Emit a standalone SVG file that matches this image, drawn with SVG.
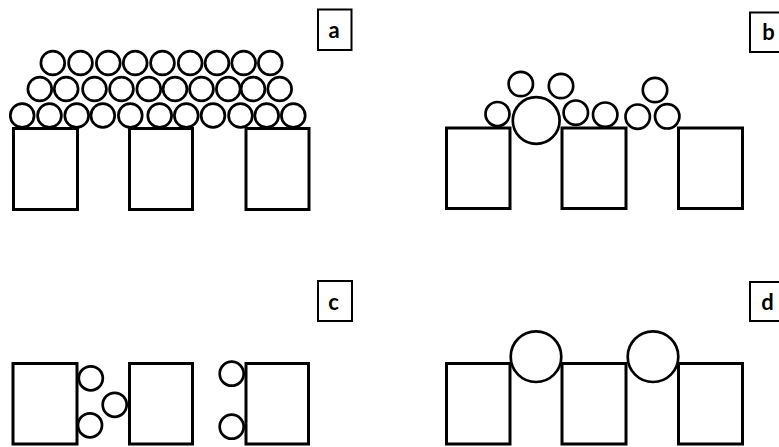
<svg xmlns="http://www.w3.org/2000/svg" width="779" height="447" viewBox="0 0 779 447">
<style>
.blk{fill:#fff;stroke:#000;stroke-width:3}
.c{fill:#fff;stroke:#000;stroke-width:2.7}
.ca{fill:#fff;stroke:#000;stroke-width:2.7}
.lb{fill:#fff;stroke:#000;stroke-width:2}
.lt{font-family:Lato,"Open Sans","Liberation Sans",sans-serif;font-weight:bold;font-size:22px;text-anchor:middle;fill:#000}
</style>
<rect width="779" height="447" fill="#fff"/>
<g id="panel-a">
<g id="a-blocks">
<rect class="blk" x="13.5" y="128.5" width="64" height="81"/>
<rect class="blk" x="129.5" y="128.5" width="63" height="81"/>
<rect class="blk" x="246" y="128.5" width="63" height="81"/>
</g>
<g id="a-particles">
<circle class="ca" cx="22.2" cy="115.5" r="11.9"/>
<circle class="ca" cx="49.5" cy="115.5" r="11.9"/>
<circle class="ca" cx="76.7" cy="115.5" r="11.9"/>
<circle class="ca" cx="102.8" cy="115.5" r="11.9"/>
<circle class="ca" cx="130.3" cy="115.5" r="11.9"/>
<circle class="ca" cx="159.7" cy="115.5" r="11.9"/>
<circle class="ca" cx="186.3" cy="115.5" r="11.9"/>
<circle class="ca" cx="213" cy="115.5" r="11.9"/>
<circle class="ca" cx="240.5" cy="115.5" r="11.9"/>
<circle class="ca" cx="266.7" cy="115.5" r="11.9"/>
<circle class="ca" cx="293.3" cy="115.5" r="11.9"/>
<circle class="ca" cx="39.8" cy="89" r="11.9"/>
<circle class="ca" cx="66.2" cy="89" r="11.9"/>
<circle class="ca" cx="94.5" cy="89" r="11.9"/>
<circle class="ca" cx="121.5" cy="89" r="11.9"/>
<circle class="ca" cx="148.8" cy="89" r="11.9"/>
<circle class="ca" cx="175" cy="89" r="11.9"/>
<circle class="ca" cx="201.5" cy="89" r="11.9"/>
<circle class="ca" cx="228.3" cy="89" r="11.9"/>
<circle class="ca" cx="253" cy="89" r="11.9"/>
<circle class="ca" cx="279.7" cy="89" r="11.9"/>
<circle class="ca" cx="52.8" cy="63" r="11.9"/>
<circle class="ca" cx="80.5" cy="63" r="11.9"/>
<circle class="ca" cx="108.3" cy="63" r="11.9"/>
<circle class="ca" cx="135.2" cy="63" r="11.9"/>
<circle class="ca" cx="162.5" cy="63" r="11.9"/>
<circle class="ca" cx="190.2" cy="63" r="11.9"/>
<circle class="ca" cx="217" cy="63" r="11.9"/>
<circle class="ca" cx="243.7" cy="63" r="11.9"/>
<circle class="ca" cx="270.3" cy="63" r="11.9"/>
</g>
<g id="label-a"><rect class="lb" x="318" y="9.5" width="33.5" height="40.5"/><text class="lt" x="334" y="37.5">a</text></g>
</g>
<g id="panel-b">
<g id="b-blocks">
<rect class="blk" x="446.5" y="128" width="63.5" height="80.5"/>
<rect class="blk" x="562" y="128" width="64" height="80.5"/>
<rect class="blk" x="678.5" y="128" width="64" height="80.5"/>
</g>
<g id="b-particles">
<circle class="c" cx="497.5" cy="114" r="12"/>
<circle class="c" cx="536.2" cy="120.5" r="23.4"/>
<circle class="c" cx="520.8" cy="84" r="12.2"/>
<circle class="c" cx="561" cy="86" r="12.2"/>
<circle class="c" cx="575.8" cy="112.7" r="12.2"/>
<circle class="c" cx="605.2" cy="114.7" r="12.2"/>
<circle class="c" cx="637.7" cy="116.7" r="12.2"/>
<circle class="c" cx="667.2" cy="116.3" r="12.2"/>
<circle class="c" cx="655" cy="90" r="12.2"/>
</g>
<g id="label-b"><rect class="lb" x="750" y="12.5" width="40" height="39.5"/><text class="lt" x="768.5" y="40">b</text></g>
</g>
<g id="panel-c">
<g id="c-blocks">
<rect class="blk" x="13" y="363.5" width="64" height="80.5"/>
<rect class="blk" x="129.5" y="363.5" width="63" height="80.5"/>
<rect class="blk" x="246" y="363.5" width="62.5" height="80.5"/>
</g>
<g id="c-particles">
<circle class="c" cx="90.8" cy="378.3" r="12"/>
<circle class="c" cx="90" cy="425.3" r="12"/>
<circle class="c" cx="114.7" cy="404.8" r="12"/>
<circle class="c" cx="231.7" cy="373.7" r="12"/>
<circle class="c" cx="231.7" cy="426.7" r="12"/>
</g>
<g id="label-c"><rect class="lb" x="318" y="281" width="34" height="40"/><text class="lt" x="333.5" y="309.5">c</text></g>
</g>
<g id="panel-d">
<g id="d-blocks">
<rect class="blk" x="446.5" y="363.5" width="63.5" height="80.5"/>
<rect class="blk" x="562" y="363.5" width="64" height="80.5"/>
<rect class="blk" x="678.5" y="363.5" width="64" height="80.5"/>
</g>
<g id="d-particles">
<circle class="c" cx="536" cy="356.7" r="25.3"/>
<circle class="c" cx="653" cy="356.7" r="25.3"/>
</g>
<g id="label-d"><rect class="lb" x="750" y="282" width="40" height="39"/><text class="lt" x="767.5" y="310">d</text></g>
</g>
</svg>
